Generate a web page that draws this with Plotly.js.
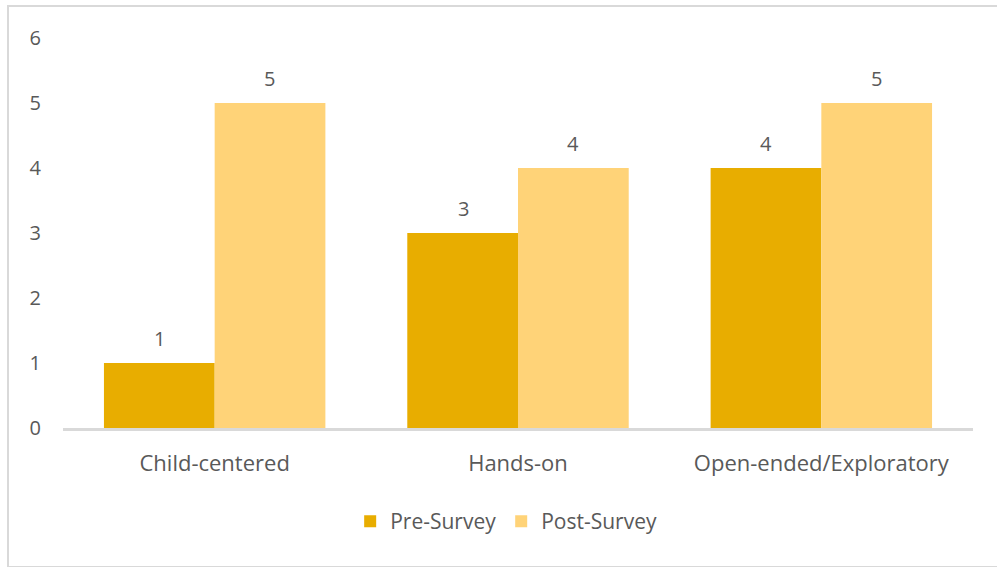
<!DOCTYPE html>
<html>
<head>
<meta charset="utf-8">
<script src="https://cdn.plot.ly/plotly-3.0.1.min.js"></script>
<style>
html,body{margin:0;padding:0;background:#fff;}
#wrap{position:relative;width:997px;height:567px;}
#chart{width:997px;height:567px;}
#frame{position:absolute;left:7px;top:5px;width:1000px;height:559px;border:2px solid #d9d9d9;border-right:none;pointer-events:none;box-sizing:content-box;}
</style>
</head>
<body>
<div id="wrap"><div id="chart"></div><div id="frame"></div></div>
<script>
const categories = ["Child-centered", "Hands-on", "Open-ended/Exploratory"];
const preSurvey = [1, 3, 4];
const postSurvey = [5, 4, 5];
const seriesNames = ["Pre-Survey", "Post-Survey"];
const yTicks = [0, 1, 2, 3, 4, 5, 6];

const FONT = "'Open Sans', sans-serif";
const TXT = "#595959";
const colors = ["#E8AD00", "#FFD378"];
const series = [preSurvey, postSurvey];

const data = series.map((vals, k) => ({
  type: "bar",
  name: seriesNames[k],
  x: categories,
  y: vals,
  marker: {color: colors[k], line: {width: 0}},
  hoverinfo: "none"
}));

const annotations = [];
series.forEach((vals, k) => {
  vals.forEach((v, i) => {
    annotations.push({
      x: categories[i], y: v, xref: "x", yref: "y",
      text: String(v), showarrow: false,
      xshift: k === 0 ? -55 : 55, yshift: 25,
      font: {family: FONT, size: 20, color: TXT}
    });
  });
});

const layout = {
  width: 997, height: 567,
  margin: {l: 63, r: 24, t: 38, b: 139},
  paper_bgcolor: "#fff", plot_bgcolor: "#fff",
  barmode: "group", bargap: 0.27, bargroupgap: 0,
  showlegend: true,
  legend: {orientation: "h", x: 0.487, xanchor: "center", xref: "paper", y: -0.24, yanchor: "middle",
           font: {family: FONT, size: 21, color: TXT}, itemwidth: 30, traceorder: "normal"},
  xaxis: {type: "category", showgrid: false, zeroline: false, showline: true, linecolor: "#d9d9d9", linewidth: 3,
          ticks: "", tickfont: {family: FONT, size: 22, color: TXT}, ticklabelstandoff: 14, fixedrange: true},
  yaxis: {range: [0, 6], tickvals: yTicks, showgrid: false, zeroline: false, showline: false, ticks: "",
          tickfont: {family: FONT, size: 20, color: TXT}, ticklabelstandoff: 21, fixedrange: true},
  annotations: annotations,
  font: {family: FONT, color: TXT}
};

Plotly.newPlot("chart", data, layout, {displayModeBar: false, staticPlot: true});
</script>
</body>
</html>
